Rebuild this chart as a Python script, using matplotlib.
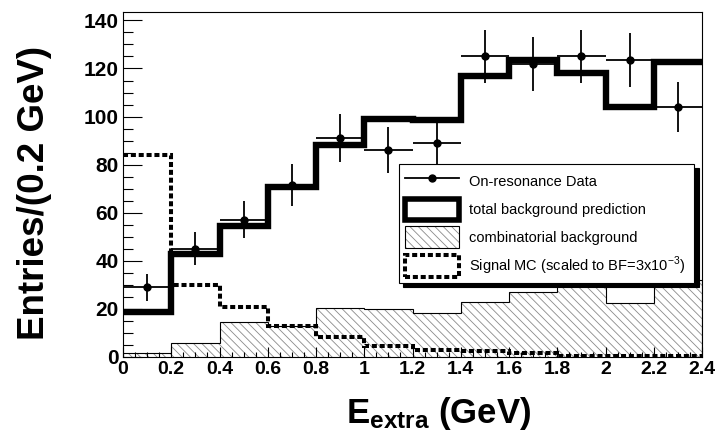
import matplotlib
matplotlib.use('Agg')
import matplotlib.pyplot as plt
from matplotlib.lines import Line2D
from matplotlib.patches import Patch
from matplotlib.ticker import MultipleLocator, FuncFormatter
from matplotlib.transforms import ScaledTranslation
import numpy as np

plt.rcParams['font.family'] = ['Liberation Sans', 'DejaVu Sans']
plt.rcParams['mathtext.fontset'] = 'custom'
plt.rcParams['mathtext.rm'] = 'Liberation Sans'
plt.rcParams['mathtext.bf'] = 'Liberation Sans:bold'
plt.rcParams['hatch.color'] = '#8a8a8a'
plt.rcParams['hatch.linewidth'] = 0.6

# Bins (E_extra in GeV)
edges = np.round(np.arange(0, 2.41, 0.2), 2)
centers = edges[:-1] + 0.1

# Werte
data = [29, 45, 57, 71.5, 91, 86, 89, 125, 122, 125, 123.5, 104]
data_err = [5.6, 6.9, 7.7, 8.7, 10, 9.6, 9, 11.2, 11.2, 11.2, 11.2, 10.4]
total_bkg = [18.7, 43, 54.5, 70.7, 88, 99.2, 98.5, 117, 123.5, 118, 104, 122.6]
comb_bkg = [1.5, 5.8, 14.7, 13, 20.3, 19.8, 18.3, 23, 27, 31, 22.5, 32]
signal_mc = [84, 30, 21, 13, 8.5, 4.5, 3, 2.6, 1.8, 0.5, 0.5, 0.5]

dash = (0, (1.25, 0.7))
hatch = '\\\\\\\\'

fig = plt.figure(figsize=(7.15, 4.38), dpi=100)
ax = fig.add_axes([123/715, 1 - 357/438, 579/715, 345/438])

# kombinatorischer Untergrund (schraffiert)
ax.stairs(comb_bkg, edges, fill=True, hatch=hatch, facecolor='white', zorder=1)
ax.stairs(comb_bkg, edges, color='black', linewidth=0.8, zorder=2)
# Signal MC
ax.stairs(signal_mc, edges, baseline=None, color='black', linewidth=2.9, linestyle=dash, zorder=3)
# gesamter Untergrund
ax.stairs(total_bkg, edges, baseline=None, color='black', linewidth=4.6, zorder=4)
# Daten
ax.errorbar(centers, data, xerr=0.1, yerr=data_err, fmt='o', color='black', ms=5,
            elinewidth=1.3, capsize=0, zorder=5)

ax.set_xlim(0, 2.4)
ax.set_ylim(0, 143.5)
ax.xaxis.set_major_locator(MultipleLocator(0.2))
ax.xaxis.set_minor_locator(MultipleLocator(0.05))
ax.yaxis.set_major_locator(MultipleLocator(20))
ax.yaxis.set_minor_locator(MultipleLocator(5))
ax.xaxis.set_major_formatter(FuncFormatter(lambda v, p: f'{v:g}'))
ax.tick_params(axis='both', which='both', direction='in', top=False, right=False, width=0.8)
ax.tick_params(axis='x', which='major', length=7.5, pad=3, labelsize=14)
ax.tick_params(axis='x', which='minor', length=3.8)
ax.tick_params(axis='y', which='major', length=13.5, pad=3, labelsize=15)
ax.tick_params(axis='y', which='minor', length=7)
for lab in ax.get_xticklabels() + ax.get_yticklabels():
    lab.set_fontweight('bold')
# letzte Beschriftung etwas nach links, damit sie nicht abgeschnitten wird
last = ax.get_xticklabels()[-1]
last.set_transform(last.get_transform() + ScaledTranslation(-3/72, 0, fig.dpi_scale_trans))
for sp in ax.spines.values():
    sp.set_linewidth(0.8)

ax.set_ylabel('Entries/(0.2 GeV)', fontsize=26.5, fontweight='bold')
ax.yaxis.set_label_coords(-0.122, 0.475)
ax.set_xlabel(r'$\mathbf{E_{extra}}$ (GeV)', fontsize=25, fontweight='bold')
ax.xaxis.set_label_coords(0.545, -0.11)

# Legende
h_data = Line2D([], [], color='black', marker='o', ms=5, linewidth=1.3)
h_tot = Patch(facecolor='white', edgecolor='black', linewidth=4)
h_comb = (Patch(facecolor='white', hatch=hatch), Patch(facecolor='none', edgecolor='black', linewidth=0.8))
h_sig = Patch(facecolor='white', edgecolor='black', linewidth=2.9, linestyle=dash)
leg = ax.legend([h_data, h_tot, h_comb, h_sig],
                ['On-resonance Data', 'total background prediction', 'combinatorial background',
                 'Signal MC (scaled to BF=3x10$^{-3}$)'],
                loc='upper left', bbox_to_anchor=(0.476, 0.223, 0.510, 0.336), mode='expand',
                fontsize=10.5, handlelength=3.7, handleheight=1.9, labelspacing=0.43,
                handletextpad=0.7, borderpad=0.45, borderaxespad=0, fancybox=False,
                edgecolor='black', framealpha=1,
                shadow={'ox': 3.5, 'oy': -3, 'color': 'black', 'alpha': 1})
leg.get_frame().set_linewidth(0.8)
leg.set_zorder(10)

fig.savefig('out.png', dpi=100)
